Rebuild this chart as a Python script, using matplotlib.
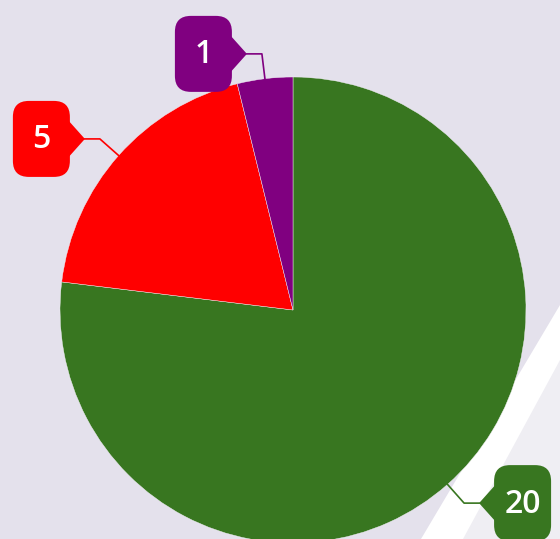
import numpy as np
import matplotlib
matplotlib.use("Agg")
import matplotlib.pyplot as plt
from matplotlib.patches import FancyBboxPatch, Polygon

values = [20, 5, 1]
labels = ["20", "5", "1"]
colors = ["#387620", "#ff0000", "#800080"]

W, H = 560, 539
fig = plt.figure(figsize=(W / 100, H / 100), dpi=100)
fig.patch.set_facecolor("#e4e1ec")
ax = fig.add_axes([0, 0, 1, 1])
ax.set_xlim(0, W)
ax.set_ylim(0, H)
ax.set_aspect("equal")
ax.axis("off")

def P(x, y):
    return (x, H - y)

# decorative background band
ax.add_patch(Polygon([P(560, 305), P(421, 539), P(560, 539)], closed=True,
                     facecolor="#ffffff", edgecolor="none", zorder=0))
ax.add_patch(Polygon([P(560, 360), P(463, 539), P(560, 539)], closed=True,
                     facecolor="#efeef3", edgecolor="none", zorder=0))

cx, cy, r = 293, 310, 233
wedges, _ = ax.pie(values, colors=colors, startangle=90, counterclock=False,
                   center=P(cx, cy), radius=r,
                   wedgeprops=dict(edgecolor="#f4f2f8", linewidth=0.3), frame=True)
ax.set_xlim(0, W)
ax.set_ylim(0, H)
ax.axis("off")

total = sum(values)
start = 0.0
box_w, box_h, ext, hor, arr = 57, 76, 25, 15, 15
for val, lab, col in zip(values, labels, colors):
    frac = val / total
    mid = np.deg2rad((start + frac / 2) * 360)
    start += frac
    ex, ey = cx + r * np.sin(mid), cy - r * np.cos(mid)
    kx, ky = cx + (r + ext) * np.sin(mid), cy - (r + ext) * np.cos(mid)
    side = 1 if np.sin(mid) > 0 else -1
    tx = kx + side * hor
    ax.plot([ex, kx, tx], [H - ey, H - ky, H - ky], color=col, lw=1.2, zorder=3)
    bx0 = tx + side * arr
    if side > 0:
        left = bx0
    else:
        left = bx0 - box_w
    ax.add_patch(Polygon([P(tx, ky), P(bx0 + side * 2, ky - 19), P(bx0 + side * 2, ky + 19)],
                         closed=True, facecolor=col, edgecolor="none", zorder=4))
    ax.add_patch(FancyBboxPatch((left + 14, H - ky - box_h / 2 + 14), box_w - 28, box_h - 28,
                                boxstyle="round,pad=14,rounding_size=16",
                                facecolor=col, edgecolor="none", zorder=4))
    ax.text(left + box_w / 2, H - ky - 1, lab, color="white", fontsize=23,
            family="Open Sans", fontweight="semibold", ha="center", va="center", zorder=5)

fig.savefig("out.png", dpi=100, facecolor=fig.get_facecolor())
